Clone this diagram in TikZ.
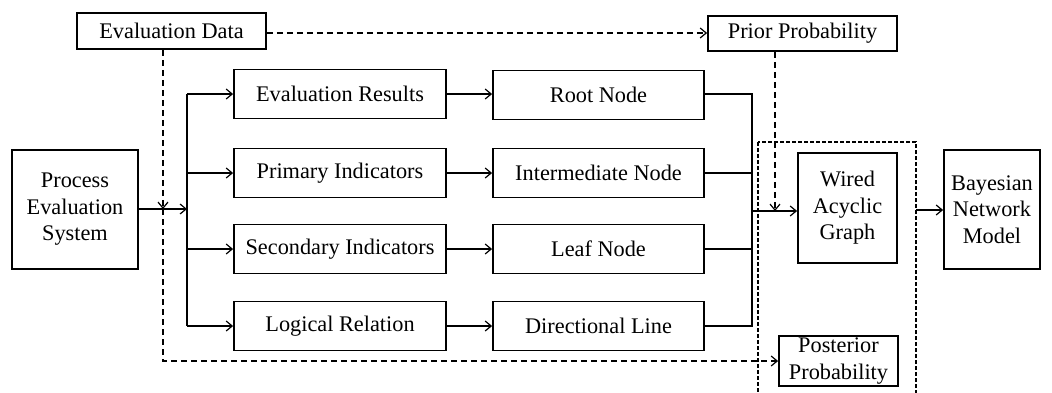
\documentclass[tikz,border=0pt]{standalone}
\usepackage{fontspec}
\setmainfont{Liberation Serif}
\usetikzlibrary{arrows.meta}
\begin{document}
\begin{tikzpicture}[x=1pt,y=-1pt,
  box/.style={draw,line width=1.8pt,align=center,inner sep=0pt,
    font=\fontsize{22.3}{26.5}\selectfont},
  conn/.style={line width=1.2pt},
  arr/.style={conn,-{Straight Barb[length=6pt,width=10pt,line width=1.2pt]}},
  darr/.style={arr,dash pattern=on 6pt off 4pt},
  frame/.style={line width=1.3pt,dash pattern=on 4pt off 2pt}]
\clip (0,0) rectangle (1052,392);
\fill[white] (0,0) rectangle (1052,392);

% input boxes
\node[box,minimum width=189pt,minimum height=36pt] (evdata) at (171.5,31) {Evaluation Data};
\node[box,minimum width=189pt,minimum height=35pt] (prior) at (802.5,33.5) {Prior Probability};
\node[box,minimum width=126pt,minimum height=119pt] (proc) at (75,209.5) {Process\\Evaluation\\System};

% left column
\node[box,minimum width=212pt,minimum height=49pt] (evres) at (340,94) {Evaluation Results};
\node[box,minimum width=212pt,minimum height=49pt] (prim) at (340,173) {Primary Indicators};
\node[box,minimum width=212pt,minimum height=49pt] (sec) at (340,249) {Secondary Indicators};
\node[box,minimum width=212pt,minimum height=49pt] (logic) at (340,326) {Logical Relation};

% right column
\node[box,minimum width=211pt,minimum height=49pt] (root) at (598.5,95) {Root Node};
\node[box,minimum width=211pt,minimum height=49pt] (inter) at (598.5,173) {Intermediate Node};
\node[box,minimum width=211pt,minimum height=49pt] (leaf) at (598.5,249) {Leaf Node};
\node[box,minimum width=211pt,minimum height=49pt] (dirl) at (598.5,326) {Directional Line};

% graph and model
\node[box,minimum width=99pt,minimum height=110pt] (wired) at (847.5,208) {Wired\\Acyclic\\Graph};
\node[box,minimum width=96pt,minimum height=119pt] (bayes) at (992,209.5) {Bayesian\\Network\\Model};
\node[box,minimum width=119pt,minimum height=50pt] (post) at (838.5,361) {Posterior\\Probability};

% dashed frame around the graph stage
\draw[frame] (758,142) rectangle (916,420);
\coordinate (frameR) at (916,210);

% bus on the left
\coordinate (busL) at (187,209);
\draw[arr] (proc.east |- busL) -- (busL);
\draw[conn] (187,94) -- (187,326);
\draw[arr] (187,94) -- (evres.west |- 0,94);
\draw[arr] (187,173) -- (prim.west |- 0,173);
\draw[arr] (187,249) -- (sec.west |- 0,249);
\draw[arr] (187,326) -- (logic.west |- 0,326);

% left to right column
\draw[arr] (evres.east |- 0,94) -- (root.west |- 0,94);
\draw[arr] (prim.east) -- (inter.west);
\draw[arr] (sec.east) -- (leaf.west);
\draw[arr] (logic.east) -- (dirl.west);

% bus on the right
\coordinate (busR) at (752,211);
\draw[conn] (root.east |- 0,94) -- (752,94) -- (752,326) -- (dirl.east);
\draw[conn] (inter.east) -- (752,173);
\draw[conn] (leaf.east) -- (752,249);
\draw[arr] (busR) -- (wired.west |- busR);
\draw[arr] (frameR) -- (bayes.west |- frameR);

% dashed data flows
\coordinate (edDrop) at (163,209);
\draw[darr] (evdata.south -| edDrop) -- (edDrop);
\draw[darr] (edDrop) |- (post.west);
\draw[darr] (evdata.east |- 0,33) -- (prior.west |- 0,33);
\coordinate (prDrop) at (775,211);
\draw[darr] (prior.south -| prDrop) -- (prDrop);
\end{tikzpicture}
\end{document}
